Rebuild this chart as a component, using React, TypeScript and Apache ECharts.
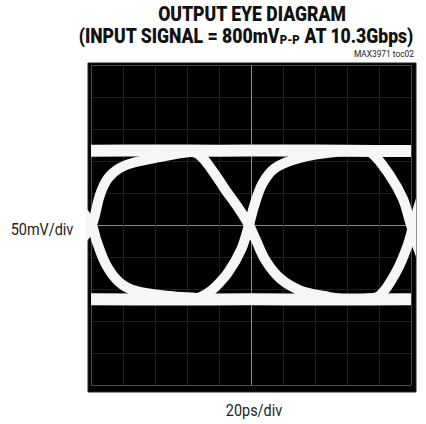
import React, { useEffect, useRef } from "react";
import * as echarts from "echarts";

// Axis scale: 20 ps/div horizontally, 50 mV/div vertically (10 x 10 divisions)
const X_MIN = 0;
const X_MAX = 200;
const X_INT = 20;
const Y_MIN = -250;
const Y_MAX = 250;
const Y_INT = 50;

// Traces: [time (ps), amplitude (mV)]
const topRail = [[0, 116], [40, 116.5], [80, 116], [120, 116.5], [160, 116], [200, 115.5]];
const bottomRail = [[0, -116], [50, -116.5], [100, -116], [150, -116.5], [200, -116]];

const riseLeft = [[-15, -55], [-7, -27], [0.5, 0], [5.6, 47], [10.6, 73], [18, 89], [27.5, 98], [43, 106], [55.6, 112], [65, 115], [75, 116]];
const fallLeft = [[-15, 55], [-7, 27], [0.5, 0], [3.5, -25], [9.4, -62], [17.5, -89], [28, -103], [49, -111], [65.6, -114], [75, -116], [85, -116]];

const fallMid = [[50, 116], [61, 115], [68, 109], [75.6, 86], [84, 55], [92, 27], [98.75, 0], [103, -23], [109, -55], [118, -83], [130.6, -102], [146, -111], [160.6, -116], [170, -116]];
const riseMid = [[55, -116], [65, -115], [72, -108], [78, -96], [86, -73], [94, -37.5], [98.75, 0], [102, 30], [107, 64], [115, 89], [130.6, 105], [152.5, 114], [168, 116], [178, 116]];

const fallRight = [[155, 116], [168, 116], [175.6, 112], [187, 76.5], [195, 40.6], [199.4, 4.7], [205, -40], [212, -80]];
const riseRight = [[162, -116], [172, -115], [180.6, -110], [191, -72], [198, -31], [202, 5], [207, 45], [214, 80]];

const edgeTraces = [riseLeft, fallLeft, fallMid, riseMid, fallRight, riseRight];
const railTraces = [topRail, bottomRail];

// Graticule line shades: frame, ordinary divisions, centre line
const gridShades = ["#4a4a4a", "#1f1f1f", "#1f1f1f", "#1f1f1f", "#1f1f1f", "#8a8a8a", "#1f1f1f", "#1f1f1f", "#1f1f1f", "#1f1f1f", "#4a4a4a"];

const TITLE_1 = "OUTPUT EYE DIAGRAM";
const TITLE_2 = "(INPUT SIGNAL = 800mV{sub|P-P} AT 10.3Gbps)";
const NOTE = "MAX3971 toc02";
const Y_NAME = "50mV/div";
const X_NAME = "20ps/div";

export default function App() {
  const ref = useRef<HTMLDivElement>(null);

  useEffect(() => {
    if (!ref.current) return;
    const chart = echarts.init(ref.current, null, { renderer: "svg" });

    const traceStyle = (width: number) => ({
      color: "#f6f6f6",
      width,
      cap: "butt",
      join: "round",
    });

    const series: any[] = [];
    railTraces.forEach((d) =>
      series.push({
        type: "line",
        data: d,
        showSymbol: false,
        smooth: 0.3,
        clip: true,
        lineStyle: traceStyle(12),
        z: 3,
      })
    );
    edgeTraces.forEach((d) =>
      series.push({
        type: "line",
        data: d,
        showSymbol: false,
        smooth: 0.35,
        clip: true,
        lineStyle: traceStyle(10),
        z: 3,
      })
    );

    const font = "Roboto, 'Liberation Sans', sans-serif";

    chart.setOption({
      animation: false,
      backgroundColor: "#ffffff",
      grid: { left: 91, top: 65, width: 320, height: 320, containLabel: false },
      xAxis: {
        type: "value",
        min: X_MIN,
        max: X_MAX,
        interval: X_INT,
        axisLine: { show: false },
        axisTick: { show: false },
        axisLabel: { show: false },
        splitLine: { show: true, lineStyle: { color: gridShades, width: 1 } },
      },
      yAxis: {
        type: "value",
        min: Y_MIN,
        max: Y_MAX,
        interval: Y_INT,
        axisLine: { show: false },
        axisTick: { show: false },
        axisLabel: { show: false },
        splitLine: { show: true, lineStyle: { color: gridShades, width: 1 } },
      },
      graphic: [
        {
          type: "rect",
          z: -10,
          shape: { x: 88, y: 63, width: 328, height: 329 },
          style: { fill: "#000000", stroke: "#222", lineWidth: 1 },
        },
        {
          type: "text",
          x: 252,
          y: 15,
          scaleX: 0.88,
          style: {
            text: TITLE_1,
            fontFamily: font,
            fontSize: 20,
            fontWeight: 900,
            fill: "#111",
            align: "center",
            verticalAlign: "middle",
          },
        },
        {
          type: "text",
          x: 246,
          y: 37,
          scaleX: 0.88,
          style: {
            text: TITLE_2,
            fontFamily: font,
            fontSize: 20,
            fontWeight: 900,
            fill: "#111",
            align: "center",
            verticalAlign: "middle",
            rich: {
              sub: { fontSize: 13, fontWeight: 900, fontFamily: font, fill: "#111", verticalAlign: "bottom", padding: [0, 0, 1, 0] },
            },
          },
        },
        {
          type: "text",
          x: 414,
          y: 54,
          scaleX: 0.88,
          style: {
            text: NOTE,
            fontFamily: font,
            fontSize: 9.5,
            fill: "#222",
            align: "right",
            verticalAlign: "middle",
          },
        },
        {
          type: "text",
          x: 42,
          y: 229,
          scaleX: 0.85,
          style: {
            text: Y_NAME,
            fontFamily: font,
            fontSize: 17,
            fill: "#222",
            align: "center",
            verticalAlign: "middle",
          },
        },
        {
          type: "text",
          x: 254,
          y: 410,
          scaleX: 0.85,
          style: {
            text: X_NAME,
            fontFamily: font,
            fontSize: 17,
            fill: "#222",
            align: "center",
            verticalAlign: "middle",
          },
        },
      ],
      series,
    });

    return () => chart.dispose();
  }, []);

  return (
    <div
      ref={ref}
      style={{ position: "fixed", left: 0, top: 0, width: 426, height: 424 }}
    />
  );
}
